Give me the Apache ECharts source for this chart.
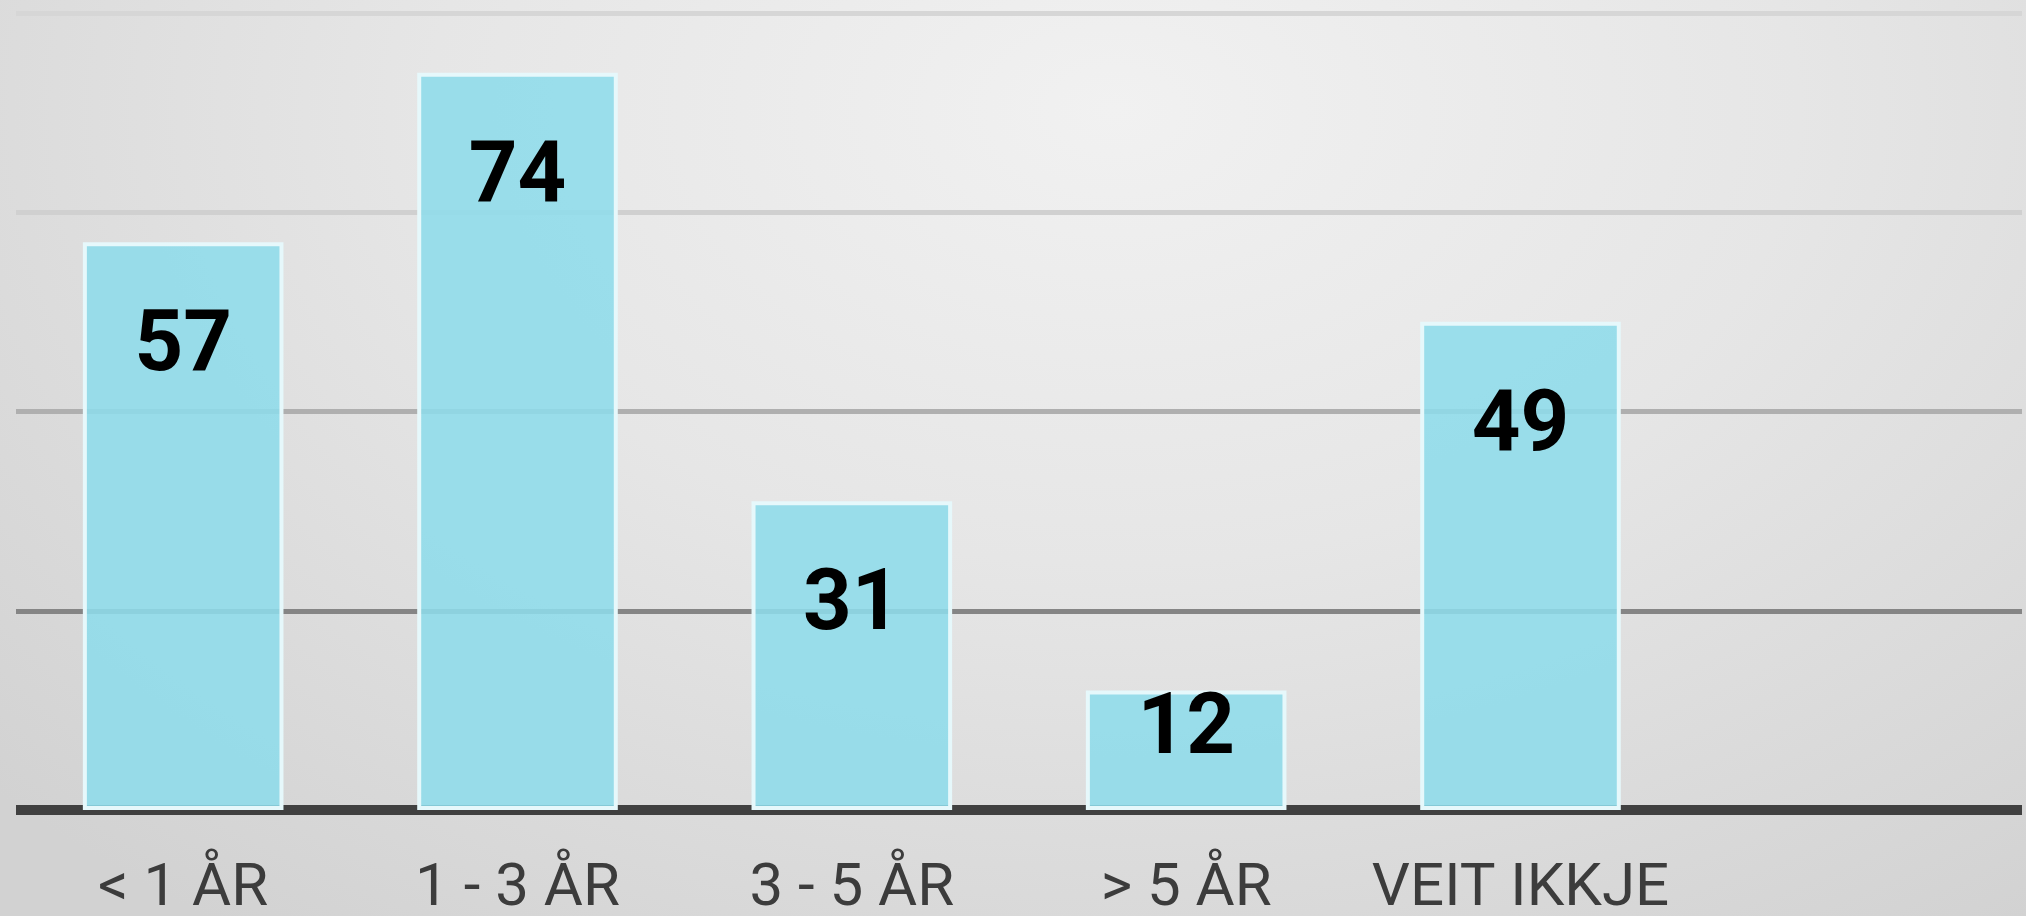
<!DOCTYPE html>
<html>
<head>
<meta charset="utf-8">
<script src="https://cdn.jsdelivr.net/npm/echarts@6/dist/echarts.min.js"></script>
<style>
  html, body { margin: 0; padding: 0; }
  #chart {
    width: 2026px; height: 916px;
    background: radial-gradient(ellipse 75% 110% at 55% 12%, #f1f1f1 0%, #e6e6e6 45%, #d2d2d2 100%);
  }
</style>
</head>
<body>
<div id="chart"></div>
<script>
const categories = ['< 1 ÅR', '1 - 3 ÅR', '3 - 5 ÅR', '> 5 ÅR', 'VEIT IKKJE', ''];
const values = [57, 74, 31, 12, 49];
const yTicks = { min: 0, max: 80, interval: 20 };

const chart = echarts.init(document.getElementById('chart'), null, { renderer: 'canvas' });
chart.setOption({
  backgroundColor: 'transparent',
  animation: false,
  grid: { left: 16, right: 4, top: 13, bottom: 106, containLabel: false, outerBoundsMode: 'none' },
  xAxis: {
    type: 'category',
    data: categories,
    axisLine: { show: true, onZero: true, lineStyle: { color: '#404040', width: 10, cap: 'butt' } },
    axisTick: { show: false },
    axisLabel: {
      interval: 0,
      color: '#3c3c3c',
      fontFamily: 'Roboto',
      fontSize: 60,
      margin: 50
    },
    z: 1
  },
  yAxis: {
    type: 'value',
    min: yTicks.min, max: yTicks.max, interval: yTicks.interval,
    axisLine: { show: false },
    axisTick: { show: false },
    axisLabel: { show: false },
    splitLine: {
      show: true,
      lineStyle: { color: ['rgba(0,0,0,0)', '#858585', '#afafaf', '#d0d0d0', '#d6d6d6'], width: 5 }
    }
  },
  series: [{
    type: 'bar',
    data: values,
    barCategoryGap: '40%',
    z: 3,
    itemStyle: {
      color: 'rgba(142,220,234,0.88)',
      borderColor: '#e6f8fb',
      borderWidth: 4
    },
    label: {
      show: true,
      position: 'inside',
      color: '#000',
      fontFamily: 'Roboto',
      fontWeight: 'bold',
      fontSize: 85
    },
    labelLayout: function (params) {
      const r = params.rect;
      const top = Math.min(r.y, r.y + r.height);
      const h = Math.abs(r.height);
      return {
        x: r.x + r.width / 2,
        y: top + Math.min(107, h - 78),
        align: 'center',
        verticalAlign: 'middle'
      };
    }
  }]
});
</script>
</body>
</html>
